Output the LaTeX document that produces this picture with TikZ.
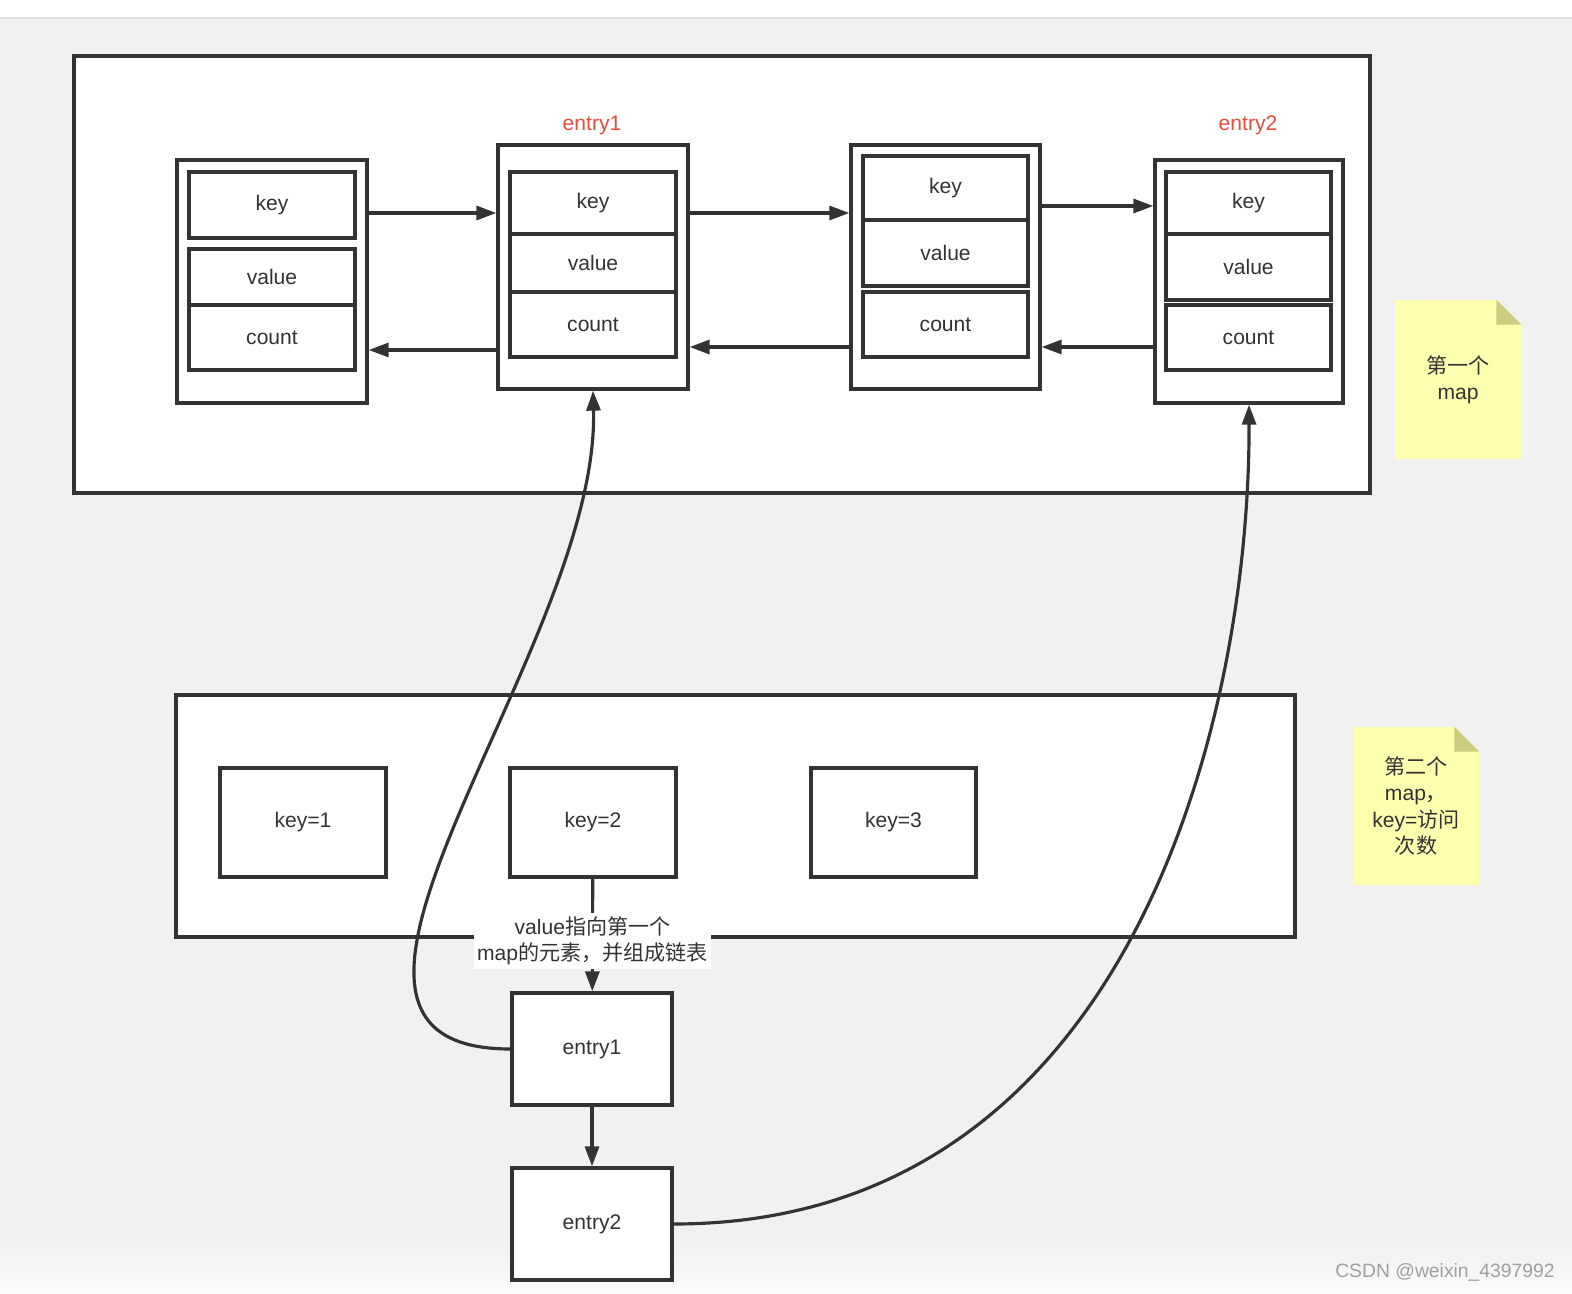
\documentclass[tikz,border=0pt]{standalone}
\usepackage{fontspec}
\setmainfont{Liberation Sans}
\newfontfamily\cjk{Noto Sans CJK SC}
\usetikzlibrary{arrows.meta,positioning,calc}
\definecolor{ink}{RGB}{51,51,51}
\definecolor{bggray}{RGB}{241,241,241}
\definecolor{tagred}{RGB}{231,76,60}
\definecolor{notey}{RGB}{255,255,176}
\definecolor{notefold}{RGB}{206,204,128}

\begin{document}
\begin{tikzpicture}[
    x=0.02cm, y=-0.02cm,
    font=\fontsize{12pt}{15pt}\selectfont,
    cell/.style={rectangle, draw=ink, line width=1.9pt, fill=white, text=ink, minimum width=3.32cm, inner sep=0pt},
    holder/.style={rectangle, draw=ink, line width=1.9pt, fill=white, minimum width=3.8cm, minimum height=4.88cm},
    mapbox/.style={rectangle, draw=ink, line width=1.9pt, fill=white},
    leaf/.style={rectangle, draw=ink, line width=1.9pt, fill=white, text=ink, minimum width=3.2cm, minimum height=2.24cm},
    note/.style={rectangle, fill=notey, text=ink, align=center, minimum width=2.52cm, minimum height=3.18cm},
    tag/.style={text=tagred},
    arrow/.style={-{Triangle[length=0.4cm,width=0.28cm]}, draw=ink, line width=1.8pt}
]
    \useasboundingbox (0,0) rectangle (1572,1294);
    % background
    \fill[white] (0,0) rectangle (1572,18);
    \fill[bggray] (0,18) rectangle (1572,1294);
    \shade[top color=bggray, bottom color=white!70!bggray] (0,1244) rectangle (1572,1294);
    \draw[gray!25, line width=1pt] (0,18) -- (1572,18);

    % first map
    \node[mapbox, minimum width=25.92cm, minimum height=8.74cm] (mapA) at (722,274.5) {};

    \node[holder, minimum height=4.86cm] (hA) at (272,281.5) {};
    \node[cell, minimum height=1.32cm] (kA) at (272,205) {key};
    \node[cell, minimum height=1.12cm] (vA) at (272,277) {value};
    \node[cell, minimum height=1.30cm] (cA) at (272,337.5) {count};

    \node[holder] (hB) at (593,267) {};
    \node[cell, minimum height=1.24cm] (kB) at (593,203) {key};
    \node[cell, minimum height=1.16cm] (vB) at (593,263) {value};
    \node[cell, minimum height=1.30cm] (cB) at (593,324.5) {count};

    \node[holder, minimum width=3.78cm] (hC) at (945.5,267) {};
    \node[cell, minimum width=3.30cm, minimum height=1.28cm] (kC) at (945.5,188) {key};
    \node[cell, minimum width=3.30cm, minimum height=1.32cm] (vC) at (945.5,253) {value};
    \node[cell, minimum width=3.30cm, minimum height=1.30cm] (cC) at (945.5,324.5) {count};

    \node[holder, minimum width=3.76cm, minimum height=4.86cm] (hD) at (1249,281.5) {};
    \node[cell, minimum width=3.30cm, minimum height=1.24cm] (kD) at (1248.5,203) {key};
    \node[cell, minimum width=3.30cm, minimum height=1.32cm] (vD) at (1248.5,267) {value};
    \node[cell, minimum width=3.30cm, minimum height=1.30cm] (cD) at (1248.5,337.5) {count};

    \node[tag] (tB) at (592,125) {entry1};
    \node[tag] (tD) at (1248,125) {entry2};

    \draw[arrow] (hA.east |- 0,213) -- (hB.west |- 0,213);
    \draw[arrow] (hB.east |- 0,213) -- (hC.west |- 0,213);
    \draw[arrow] (hC.east |- 0,206) -- (hD.west |- 0,206);
    \draw[arrow] (hB.west |- 0,350) -- (hA.east |- 0,350);
    \draw[arrow] (hC.west |- 0,347) -- (hB.east |- 0,347);
    \draw[arrow] (hD.west |- 0,347) -- (hC.east |- 0,347);

    % second map
    \node[mapbox, minimum width=22.38cm, minimum height=4.84cm] (mapB) at (735.5,816) {};
    \node[leaf, minimum width=3.32cm, minimum height=2.18cm] (k1) at (303,822.5) {key=1};
    \node[leaf, minimum width=3.32cm, minimum height=2.18cm] (k2) at (593,822.5) {key=2};
    \node[leaf, minimum width=3.30cm, minimum height=2.18cm] (k3) at (893.5,822.5) {key=3};

    \node[leaf] (e1) at (592,1049) {entry1};
    \node[leaf] (e2) at (592,1224) {entry2};

    \draw[arrow] (k2) -- node[fill=white, align=center, text=ink, inner sep=2pt, yshift=-0.12cm] (lk)
        {value{\cjk 指向第一个}\\map{\cjk 的元素，并组成链表}} (e1);
    \draw[arrow] (e1) -- (e2);

    \draw[arrow] (e1.west) .. controls (250,1049) and (600,650) .. (hB.south);
    \draw[arrow] (e2.east) .. controls (1130,1224) and (1250,720) .. (hD.south);

    % notes
    \node[note] (nA) at (1458,379.5) {{\cjk 第一个}\\map};
    \fill[bggray] (nA.north east) -- ++(-25,0) -- ++(25,25) -- cycle;
    \fill[notefold] ([xshift=-0.5cm]nA.north east) -- ++(0,25) -- ++(25,0) -- cycle;

    \node[note, minimum height=3.16cm] (nB) at (1416,806) {{\cjk 第二个}\\map{\cjk ，}\\key={\cjk 访问}\\{\cjk 次数}};
    \fill[bggray] (nB.north east) -- ++(-25,0) -- ++(25,25) -- cycle;
    \fill[notefold] ([xshift=-0.5cm]nB.north east) -- ++(0,25) -- ++(25,0) -- cycle;

    \node[text=gray!75, font=\fontsize{11pt}{13pt}\selectfont] (wm) at (1445,1272) {CSDN @weixin\_4397992};
\end{tikzpicture}
\end{document}
